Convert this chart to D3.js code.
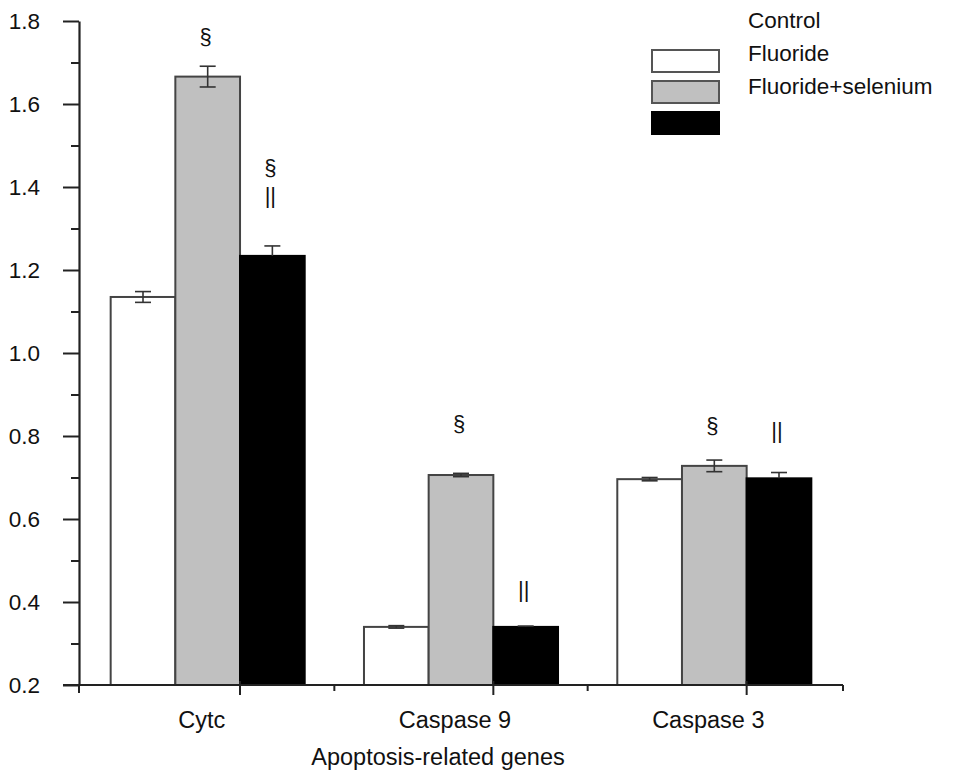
<!DOCTYPE html>
<html>
<head>
<meta charset="utf-8">
<script src="https://cdn.jsdelivr.net/npm/d3@7"></script>
<style>
  html, body { margin: 0; padding: 0; background: #fff; }
  svg { display: block; }
  text { font-family: "Liberation Sans", Arial, sans-serif; fill: #111; }
</style>
</head>
<body>
<svg id="chart" width="956" height="773"></svg>
<script>
// ---- data ----
const categories = ["Cytc", "Caspase 9", "Caspase 3"];
const seriesNames = ["Control", "Fluoride", "Fluoride+selenium"];
const controlValues = [1.135, 0.340, 0.696];
const fluorideValues = [1.666, 0.706, 0.728];
const fluorideSeleniumValues = [1.234, 0.340, 0.698];
const controlErrors = [0.013, 0.003, 0.004];
const fluorideErrors = [0.025, 0.004, 0.014];
const fluorideSeleniumErrors = [0.024, 0.002, 0.014];
const yTicks = [0.2, 0.4, 0.6, 0.8, 1.0, 1.2, 1.4, 1.6, 1.8];
const yMinorTicks = [0.3, 0.5, 0.7, 0.9, 1.1, 1.3, 1.5, 1.7];
const xTitle = "Apoptosis-related genes";
// significance marks: category, series index, symbol, level (data units)
const annCategory = ["Cytc", "Cytc", "Cytc", "Caspase 9", "Caspase 9", "Caspase 3", "Caspase 3"];
const annSeries = [1, 2, 2, 1, 2, 1, 2];
const annSymbol = ["§", "§", "||", "§", "||", "§", "||"];
const annLevel = [1.745, 1.428, 1.361, 0.813, 0.411, 0.808, 0.796];

// ---- build ----
const seriesValues = [controlValues, fluorideValues, fluorideSeleniumValues];
const seriesErrors = [controlErrors, fluorideErrors, fluorideSeleniumErrors];
const fills = ["#ffffff", "#c0c0c0", "#000000"];
const strokes = ["#444", "#444", "#000"];

const svg = d3.select("#chart");
const x0 = 79, x1 = 843, yBottom = 685, yTop = 21;

const x = d3.scaleBand().domain(categories).range([x0, x1])
  .paddingInner(0.234).paddingOuter(0.125);
const xs = d3.scaleBand().domain(d3.range(seriesNames.length)).range([0, x.bandwidth()]);
const y = d3.scaleLinear().domain([0.2, 1.8]).range([yBottom, yTop]);

const bars = [];
categories.forEach((c, ci) => {
  seriesValues.forEach((vals, si) => {
    bars.push({c, si, v: vals[ci], e: seriesErrors[si][ci]});
  });
});

// bars
svg.append("g").selectAll("rect").data(bars).join("rect")
  .attr("x", d => x(d.c) + xs(d.si))
  .attr("y", d => y(d.v))
  .attr("width", xs.bandwidth())
  .attr("height", d => y(0.2) - y(d.v))
  .attr("fill", d => fills[d.si])
  .attr("stroke", d => strokes[d.si])
  .attr("stroke-width", 2);

// error bars (lower half hidden inside the black bars, as in the original)
const eg = svg.append("g").attr("stroke", "#333").attr("stroke-width", 1.6);
bars.forEach(d => {
  const cx = x(d.c) + xs(d.si) + xs.bandwidth() / 2;
  const lo = d.si === 2 ? d.v : d.v - d.e;
  eg.append("line").attr("x1", cx).attr("x2", cx)
    .attr("y1", y(d.v + d.e)).attr("y2", y(lo));
  const caps = d.si === 2 ? [d.v + d.e] : [d.v + d.e, d.v - d.e];
  caps.forEach(v => {
    eg.append("line").attr("x1", cx - 8).attr("x2", cx + 8)
      .attr("y1", y(v)).attr("y2", y(v));
  });
});

// y axis
const yAxis = svg.append("g").attr("transform", `translate(${x0},0)`)
  .call(d3.axisLeft(y).tickValues(yTicks).tickFormat(d3.format(".1f"))
    .tickSize(16).tickSizeOuter(0).tickPadding(23));
yAxis.selectAll("text").style("font-size", "22.5px").attr("fill", "#111");
yAxis.selectAll("line").attr("stroke", "#222").attr("stroke-width", 2);
yAxis.select(".domain").attr("stroke", "#222").attr("stroke-width", 2.2);
const yMinor = svg.append("g").attr("transform", `translate(${x0},0)`)
  .call(d3.axisLeft(y).tickValues(yMinorTicks).tickFormat("").tickSize(8).tickSizeOuter(0));
yMinor.select(".domain").remove();
yMinor.selectAll("line").attr("stroke", "#222").attr("stroke-width", 2);

// x axis line
const xg = svg.append("g").attr("stroke", "#222").attr("stroke-width", 2);
xg.append("line").attr("x1", x0 - 16).attr("x2", x1).attr("y1", yBottom).attr("y2", yBottom);
// minor ticks at band boundaries
const boundaries = [x0].concat(categories.slice(1).map(c => x(c) - x.step() * x.paddingInner() / 2), [x1]);
boundaries.forEach((bx, i) => {
  xg.append("line").attr("x1", bx).attr("x2", bx).attr("y1", yBottom)
    .attr("y2", yBottom + (i === 0 ? 8 : 6));
});
// major ticks
categories.forEach(c => {
  const tx = x(c) + xs(2);
  xg.append("line").attr("x1", tx).attr("x2", tx).attr("y1", yBottom - 4).attr("y2", yBottom + 10);
});

// category labels
svg.append("g").selectAll("text").data(categories).join("text")
  .attr("x", c => x(c) + x.bandwidth() / 2 - 6)
  .attr("y", 728)
  .attr("text-anchor", "middle")
  .style("font-size", "23.5px")
  .text(c => c);

// x title
svg.append("text").attr("x", 438).attr("y", 765).attr("text-anchor", "middle")
  .style("font-size", "23.5px").text(xTitle);

// annotations
svg.append("g").selectAll("text").data(annSymbol).join("text")
  .attr("x", (s, i) => x(annCategory[i]) + xs(annSeries[i]) + xs.bandwidth() / 2 - 2)
  .attr("y", (s, i) => y(annLevel[i]))
  .attr("text-anchor", "middle")
  .style("font-size", "22px")
  .text(s => s);

// legend (labels sit one row above their swatches as in the original)
const lg = svg.append("g");
seriesNames.forEach((n, i) => {
  lg.append("text").attr("x", 748).attr("y", 28 + 33 * i)
    .style("font-size", "22.5px").text(n);
  lg.append("rect").attr("x", 652).attr("y", 50 + 31 * i)
    .attr("width", 67).attr("height", 22)
    .attr("fill", fills[i]).attr("stroke", i === 2 ? "#000" : "#555").attr("stroke-width", 2);
});
</script>
</body>
</html>
